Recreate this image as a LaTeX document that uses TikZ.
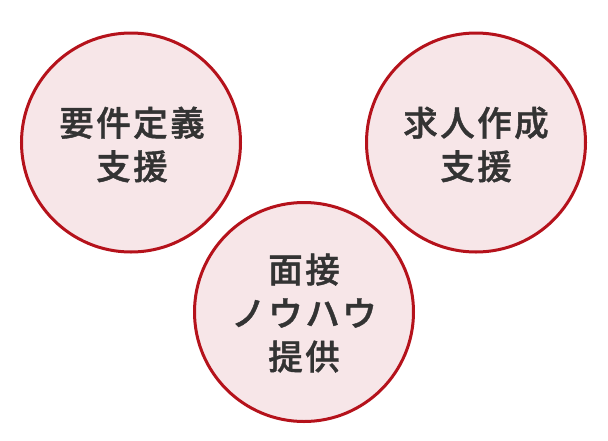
\documentclass[tikz,border=0pt]{standalone}
\usepackage{fontspec}
\newfontfamily\cjk{Noto Sans CJK JP}[BoldFont={Noto Sans CJK JP Medium},BoldFeatures={FakeBold=1.2}]
\definecolor{ringred}{HTML}{B5121B}
\definecolor{ringfill}{HTML}{F7E6E8}
\definecolor{txtgray}{HTML}{333333}
\newcommand{\ks}{\kern2.5pt}
\begin{document}
\begin{tikzpicture}[x=1pt,y=-1pt,
  ring/.style={circle,draw=ringred,fill=ringfill,line width=3pt,minimum size=219pt,inner sep=0pt},
  label/.style={text=txtgray,align=center,font=\cjk\bfseries\fontsize{34.5}{43.5}\selectfont,inner sep=0pt}]
\useasboundingbox (0,0) rectangle (608,440);
\node[ring] (c1) at (131,142.5) {};
\node[ring] (c2) at (476,142.5) {};
\node[ring] (c3) at (304,312) {};
\node[label] (t1) at (132,144.5) {要\ks 件\ks 定\ks 義\\支\ks 援};
\node[label] (t2) at (476,144.5) {求\ks 人\ks 作\ks 成\\支\ks 援};
\node[label] (t3) at (304,313) {面\ks 接\\ノ\ks ウ\ks ハ\ks ウ\\提\ks 供};
\end{tikzpicture}
\end{document}
